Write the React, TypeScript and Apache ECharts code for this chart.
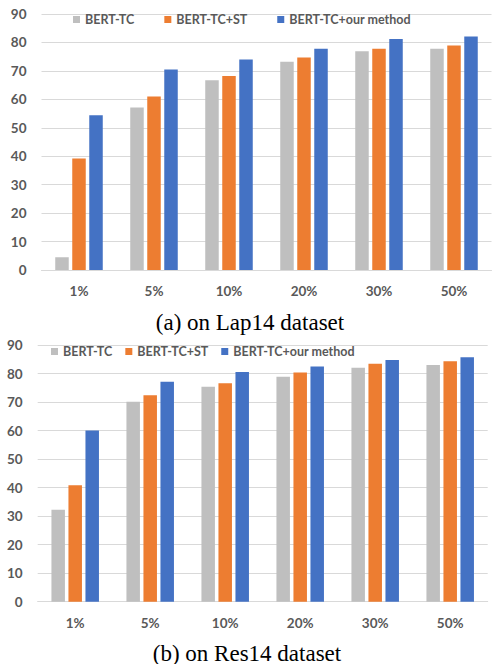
import React, { useEffect, useRef } from "react";
import * as echarts from "echarts";

const categories = ["1%", "5%", "10%", "20%", "30%", "50%"];
const seriesNames = ["BERT-TC", "BERT-TC+ST", "BERT-TC+our method"];
const seriesColors = ["#BFBFBF", "#ED7D31", "#4472C4"];

// (a) Lap14
const lapBertTC = [4.5, 57.1, 66.7, 73.2, 76.9, 77.8];
const lapBertTCST = [39.2, 61.0, 68.2, 74.7, 77.8, 78.9];
const lapOurs = [54.4, 70.5, 74.0, 77.8, 81.2, 82.1];

// (b) Res14
const resBertTC = [32.2, 70.1, 75.4, 78.9, 82.0, 83.0];
const resBertTCST = [40.8, 72.4, 76.6, 80.4, 83.4, 84.3];
const resOurs = [60.0, 77.1, 80.5, 82.5, 84.7, 85.7];

const captions = ["(a) on Lap14 dataset", "(b) on Res14 dataset"];

const TEXT = "#595959";
const GRID = "#D9D9D9";
const FONT = "Lato";

export default function App() {
  const ref = useRef<HTMLDivElement>(null);

  useEffect(() => {
    if (!ref.current) return;
    const chart = echarts.init(ref.current, undefined, { renderer: "svg" });

    const grids = [
      { left: 41.5, top: 14, width: 450, height: 256 },
      { left: 37.7, top: 345, width: 450, height: 256.7 },
    ];

    const xAxes = grids.map((_, i) => ({
      type: "category" as const,
      gridIndex: i,
      data: categories,
      axisTick: { show: false },
      axisLine: { lineStyle: { color: GRID, width: 1 } },
      axisLabel: {
        color: TEXT,
        fontFamily: FONT,
        fontWeight: "bold" as const,
        fontSize: 13.5,
        margin: 14,
      },
    }));

    const yAxes = grids.map((_, i) => ({
      type: "value" as const,
      gridIndex: i,
      min: 0,
      max: 90,
      interval: 10,
      axisLine: { show: false },
      axisTick: { show: false },
      splitLine: { lineStyle: { color: GRID, width: 1 } },
      axisLabel: {
        color: TEXT,
        fontFamily: FONT,
        fontWeight: "bold" as const,
        fontSize: 13.5,
        margin: 15,
      },
    }));

    const data = [
      [lapBertTC, lapBertTCST, lapOurs],
      [resBertTC, resBertTCST, resOurs],
    ];

    const series: any[] = [];
    data.forEach((group, gi) => {
      group.forEach((vals, si) => {
        series.push({
          type: "bar",
          name: seriesNames[si],
          xAxisIndex: gi,
          yAxisIndex: gi,
          data: vals,
          barWidth: 13.5,
          barGap: "26%",
          itemStyle: { color: seriesColors[si] },
        });
      });
    });

    const legendBase = {
      data: seriesNames,
      icon: "rect",
      itemWidth: 7,
      itemHeight: 7,
      padding: 0,
      textStyle: {
        color: TEXT,
        fontFamily: FONT,
        fontWeight: "bold" as const,
        fontSize: 12.5,
      },
      selectedMode: false,
    };

    chart.setOption({
      animation: false,
      backgroundColor: "#ffffff",
      grid: grids,
      xAxis: xAxes,
      yAxis: yAxes,
      legend: [
        { ...legendBase, left: 73, top: 13, itemGap: 30 },
        { ...legendBase, left: 51, top: 345, itemGap: 13 },
      ],
      series,
      graphic: [
        {
          type: "text",
          x: 250,
          y: 322,
          style: {
            text: captions[0],
            font: '23px "Liberation Serif", "Times New Roman", serif',
            fill: "#000",
            textAlign: "center",
            textVerticalAlign: "middle",
          },
        },
        {
          type: "text",
          x: 247,
          y: 653,
          style: {
            text: captions[1],
            font: '23px "Liberation Serif", "Times New Roman", serif',
            fill: "#000",
            textAlign: "center",
            textVerticalAlign: "middle",
          },
        },
      ],
    });

    return () => chart.dispose();
  }, []);

  return (
    <div
      ref={ref}
      style={{ position: "fixed", left: 0, top: 0, width: 492, height: 664 }}
    />
  );
}
